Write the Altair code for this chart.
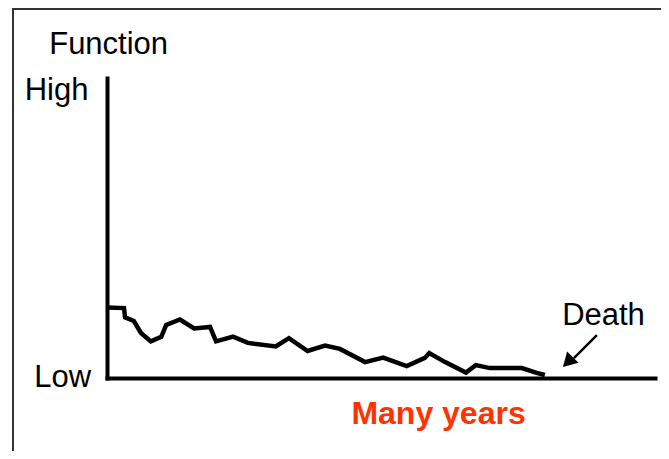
import altair as alt
import pandas as pd

# Function curve (x: time units 0-100, y: function 0-100)
years = [0, 3.1, 3.3, 4.9, 6.2, 8.0, 9.9, 10.8, 13.3, 15.9, 18.8, 19.9, 23.0, 25.7,
         30.8, 33.2, 36.6, 39.8, 42.5, 47.1, 50.4, 54.7, 58.0, 58.8, 61.7, 65.5,
         67.3, 69.9, 75.7, 78.4, 79.9]
function = [23.5, 23.3, 20.2, 19.0, 15.0, 12.2, 13.7, 17.7, 19.5, 16.5, 17.0, 12.2,
            13.8, 11.7, 10.5, 13.3, 9.0, 10.8, 9.7, 5.3, 6.8, 4.0, 6.7, 8.3, 5.3,
            1.8, 4.3, 3.3, 3.3, 1.7, 1.0]

# Annotation labels
labels = ["Function", "High", "Low", "Death"]
label_x = [0.3, -9.2, -8.1, 90.6]
label_y = [108, 92.7, -3, 17.7]

xlabel = "Many years"
xlabel_x = [60.5]
xlabel_y = [-15.3]

# Arrow pointing at "Death"
arrow_x = [89.4, 85.2]
arrow_y = [14.3, 6.6]
arrow_tip_x = [84.1]
arrow_tip_y = [5.3]

FONT = "Liberation Sans, Arial, Helvetica, sans-serif"

xs = alt.Scale(domain=[0, 100], nice=False, zero=False)
ys = alt.Scale(domain=[0, 100], nice=False, zero=False)

curve_df = pd.DataFrame({"x": years, "y": function})
label_df = pd.DataFrame({"label": labels, "x": label_x, "y": label_y})
xlabel_df = pd.DataFrame({"label": [xlabel], "x": xlabel_x, "y": xlabel_y})
arrow_df = pd.DataFrame({"x": arrow_x, "y": arrow_y})
tip_df = pd.DataFrame({"x": arrow_tip_x, "y": arrow_tip_y})

AX = alt.Axis(domain=True, domainColor="black", domainWidth=4, domainCap="square",
              ticks=False, labels=False, grid=False, title=None)

X = alt.X("x:Q", scale=xs, axis=AX)
Y = alt.Y("y:Q", scale=ys, axis=AX)

curve = alt.Chart(curve_df).mark_line(color="black", strokeWidth=4.5, clip=False).encode(
    x=X, y=Y)

text = alt.Chart(label_df).mark_text(
    font=FONT, fontSize=31, color="black", align="center", baseline="alphabetic"
).encode(x=X, y=Y, text="label:N")

xtext = alt.Chart(xlabel_df).mark_text(
    font=FONT, fontSize=32, fontWeight="bold", color="#FF3300", align="center",
    baseline="alphabetic"
).encode(x=X, y=Y, text="label:N")

arrow_line = alt.Chart(arrow_df).mark_line(color="black", strokeWidth=2.5).encode(
    x=X, y=Y)

arrow_head = alt.Chart(tip_df).mark_point(
    shape="triangle-up", filled=True, color="black", opacity=1, size=260, angle=225
).encode(x=X, y=Y)

border_left = alt.Chart(tip_df).mark_rule(color="#333333", strokeWidth=2).encode(
    x=alt.value(-94), y=alt.value(-69), y2=alt.value(480))
border_top = alt.Chart(tip_df).mark_rule(color="#333333", strokeWidth=2).encode(
    x=alt.value(-95), x2=alt.value(700), y=alt.value(-69))

chart = alt.layer(border_left, border_top, curve, text, xtext, arrow_line, arrow_head).properties(
    width=548, height=300,
    background="white",
    autosize=alt.AutoSizeParams(type="none"),
    padding={"left": 99, "top": 70, "right": 6, "bottom": 73},
).configure_view(stroke=None)

chart.save("out.html", embed_options={"renderer": "svg", "actions": False})
